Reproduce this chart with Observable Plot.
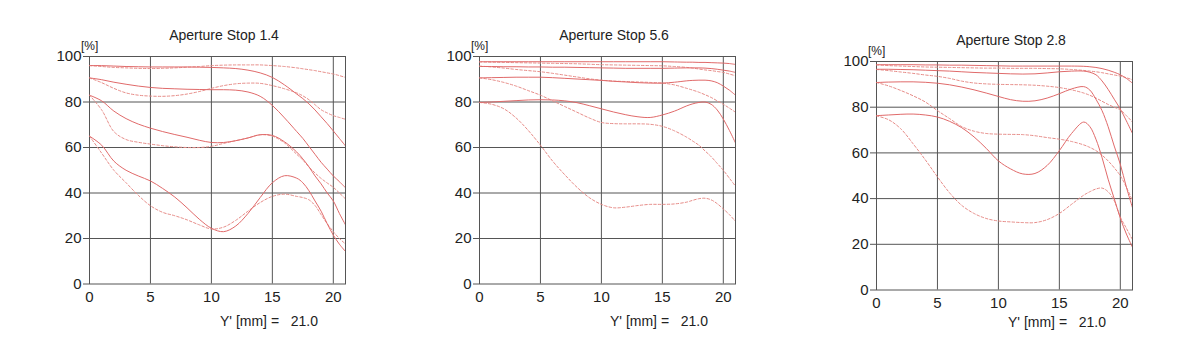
<!DOCTYPE html>
<html>
<head>
<meta charset="utf-8">
<script src="https://cdn.jsdelivr.net/npm/d3@7"></script>
<script src="https://cdn.jsdelivr.net/npm/@observablehq/plot@0.6"></script>
<style>
  html, body { margin: 0; padding: 0; background: #fff; }
  #wrap { position: relative; width: 1200px; height: 361px; overflow: hidden; font-family: "Liberation Sans", Arial, sans-serif; color: #222; }
  .panel { position: absolute; top: 0; }
  .title { position: absolute; font-size: 14px; white-space: pre; transform: translateX(-50%); }
  .unit { position: absolute; font-size: 12px; white-space: pre; }
  .foot { position: absolute; font-size: 14px; white-space: pre; }
</style>
</head>
<body>
<div id="wrap"></div>
<script>
// Image height position (mm) sample grid
const xGrid = [0,1,2,3,4,5,6,7,8,9,10,11,12,13,14,15,16,17,17.5,18,18.5,19,19.5,20,20.5,21];

// ---- Aperture Stop 1.4 ----
const ap14Solid1 = [96,96,95.8,95.6,95.5,95.4,95.4,95.4,95.4,95.3,95.2,95,94.7,94,92.8,90.8,87.5,83.5,81.5,79.2,76.5,73.5,70.5,67.3,64,60.7];
const ap14Dash1  = [96,95.6,95.2,95,94.8,94.7,94.8,95,95.3,95.6,96,96.2,96.3,96.3,96.3,96,95.6,95,94.6,94.2,93.8,93.3,92.8,92.3,91.6,90.8];
const ap14Solid2 = [90.6,89.8,88.7,87.8,87,86.4,86,85.8,85.6,85.5,85.4,85.4,85.2,84.4,82.5,78.5,73,67,64,60.5,57,53.5,50.5,47.5,45,42.3];
const ap14Dash2  = [90.6,88.5,86,84,83,82.6,82.5,82.8,83.5,84.6,86,87.2,88,88.3,88.2,87.2,85.8,84,82.7,81,78.8,76.6,75.2,74,73.2,72.4];
const ap14Solid3 = [83,80.5,76,72.7,70.3,68.5,67,65.7,64.5,63.2,62.2,62.2,63,64.2,65.6,65.3,62.5,58,55,51.5,47.5,44,40,36.5,31,26];
const ap14Dash3  = [83,76.5,67,63.5,62.3,61.5,60.8,60.3,60,60,60.5,61.8,63,64.2,65.6,65,62,57,54.5,51.5,48.8,46.4,44.4,42.5,40,37.4];
const ap14Solid4 = [65,61,54,50,47.5,45.3,42,38.2,33.5,28.5,24.5,23,25.5,31,38,44.5,47.6,46.5,44.5,41,36.5,32,26.5,21.5,17.5,14.3];
const ap14Dash4  = [65,57.5,50,44.5,39,34.4,31.5,30,28.2,26,24.2,25,28,32,35.8,38.5,39.5,38.5,38,37,34.5,30.5,26.5,23,20,17.6];

// ---- Aperture Stop 5.6 ----
const ap56Solid1 = [97.7,97.7,97.7,97.7,97.7,97.7,97.7,97.7,97.7,97.7,97.7,97.7,97.7,97.7,97.7,97.7,97.6,97.5,97.5,97.4,97.4,97.3,97.2,97.1,96.9,96.5];
const ap56Dash1  = [97.6,97.5,97.4,97.3,97.2,97.1,97,96.9,96.8,96.6,96.4,96.3,96.2,96.1,96,95.9,95.6,95.2,94.9,94.5,94.1,93.8,93.4,93,92.3,91.5];
const ap56Solid2 = [95.6,95.6,95.5,95.5,95.4,95.4,95.3,95.3,95.2,95.1,95,94.9,94.8,94.8,94.8,94.8,94.9,95,95,95,94.9,94.7,94.4,94,93.6,93];
const ap56Dash2  = [95.8,95.4,94.9,94.3,93.8,93.3,92.6,91.8,91,90.2,89.6,89.2,89,88.8,88.6,88.3,87.5,86,85.2,84.3,83.2,82,80.5,79,77.3,75.5];
const ap56Solid3 = [90.6,90.7,90.8,90.9,90.9,90.9,90.7,90.4,90.1,89.8,89.5,89.1,88.8,88.5,88.3,88.3,88.7,89.3,89.5,89.6,89.6,89.3,88.5,87,85.2,83];
const ap56Dash3  = [90.6,89.8,88.6,87,85,83,80.5,78,75.5,73,71,70.5,70.4,70.4,70.2,69.3,67.3,64.5,62.8,61,58.5,56,53,50,46.5,43];
const ap56Solid4 = [79.8,80,80.3,80.6,80.9,81,80.9,80.5,79.7,78.4,77,75.6,74.4,73.5,73.2,74.3,76,78.3,79.2,79.8,80,79,76.5,72.5,67.5,62];
const ap56Dash4  = [79.8,79,77,73,67.5,61,54,48,42.5,38,35,33.5,33.8,34.5,35,35,35.2,36,36.8,37.5,37.7,37,35.3,33,30.5,27.5];

// ---- Aperture Stop 2.8 ----
const ap28Solid1 = [98.6,98.6,98.6,98.6,98.5,98.5,98.4,98.4,98.3,98.2,98.1,98,98,98,98,98,98,97.9,97.7,97.4,96.9,96.2,95.3,94.2,92.6,90.5];
const ap28Dash1  = [98.5,98.2,98,97.8,97.6,97.5,97.4,97.3,97.2,97.1,97.1,97,97,97,96.9,96.8,96.5,96.1,95.8,95.5,95.1,94.6,94.1,93.6,92.9,92];
const ap28Solid2 = [96.6,96.6,96.5,96.4,96.2,96,95.8,95.5,95.2,95,94.8,94.6,94.5,94.6,95,95.5,95.8,95.8,95.3,94.2,91.5,87.8,83.5,79.2,74,68.5];
const ap28Dash2  = [96.5,96,95.4,94.8,94.1,93.5,92.6,91.4,90.6,90.2,90,89.9,89.8,89.6,89.2,88.6,87.6,86.2,85.2,84,82.6,81.2,80,78.8,76.3,73.5];
const ap28Solid3 = [90.8,91,91.1,91.1,90.9,90.5,89.8,88.8,87.6,86.2,84.7,83.3,82.6,82.8,84,85.9,88,89,87.5,83.5,78.5,71.5,63,55,45,36];
const ap28Dash3  = [90.8,89.3,87.3,85,82.3,78.5,75,71.5,69.5,68.5,68.2,68.1,68,67.5,66.7,66,65,63.5,62.4,61,59,56.5,53.5,50,45,39];
const ap28Solid4 = [76.3,76.6,76.9,77,76.6,75.7,73.8,71,67,62,56.5,53,50.8,51,54.5,61,68.5,73.5,71.5,66,58,48.5,40,31.5,24.5,18.7];
const ap28Dash4  = [76.2,74.5,70.5,64,57,49.5,42.5,37,33.5,31.3,30.2,29.8,29.5,29.5,30.8,33.5,37.5,41.5,43,44.2,44.6,43,39,32,27,22];

// ---- axis ticks / labels ----
const xTicks = [0,5,10,15,20];
const yTicks = [0,20,40,60,80,100];
const xGridLines = [5,10,15,20];
const yGridLines = [20,40,60,80];
const titles = ["Aperture Stop 1.4","Aperture Stop 5.6","Aperture Stop 2.8"];
const unitLabel = "[%]";
const footLabel = "Y' [mm] =   21.0";

const panelSeries = [
  {solid:[ap14Solid1,ap14Solid2,ap14Solid3,ap14Solid4], dashed:[ap14Dash1,ap14Dash2,ap14Dash3,ap14Dash4]},
  {solid:[ap56Solid1,ap56Solid2,ap56Solid3,ap56Solid4], dashed:[ap56Dash1,ap56Dash2,ap56Dash3,ap56Dash4]},
  {solid:[ap28Solid1,ap28Solid2,ap28Solid3,ap28Solid4], dashed:[ap28Dash1,ap28Dash2,ap28Dash3,ap28Dash4]}
];

// layout (pixels)
const layout = [
  {left: 39, x0: 89, x1: 345, yTop: 56, yBot: 283.5, titleX: 224, titleY: 27, unitX: 81, unitY: 39, footX: 220, footY: 313},
  {left: 429, x0: 479, x1: 735, yTop: 56, yBot: 283.5, titleX: 614, titleY: 27, unitX: 471, unitY: 39, footX: 610, footY: 313},
  {left: 826, x0: 876, x1: 1132, yTop: 61, yBot: 289.5, titleX: 1011, titleY: 32, unitX: 868, unitY: 44, footX: 1008, footY: 314}
];

const gridColor = "#555555";
const solidColor = "#e06a6a";
const dashColor = "#e68c88";
const wrap = document.getElementById("wrap");

function toRows(list, prefix) {
  const rows = [];
  list.forEach((vals, i) => vals.forEach((v, j) => rows.push({id: prefix + i, x: xGrid[j], y: v})));
  return rows;
}

layout.forEach((L, p) => {
  const ML = L.x0 - L.left, MR = 8, H = 340;
  const W = ML + (L.x1 - L.x0) + MR;
  const solidRows = toRows(panelSeries[p].solid, "s");
  const dashRows = toRows(panelSeries[p].dashed, "d");
  const chart = Plot.plot({
    width: W, height: H,
    marginLeft: ML, marginRight: MR, marginTop: L.yTop, marginBottom: H - L.yBot,
    style: {fontFamily: "'Liberation Sans', Arial, sans-serif", fontSize: "15px", color: "#222", background: "transparent", overflow: "visible"},
    x: {domain: [0, 21]},
    y: {domain: [0, 100]},
    marks: [
      Plot.ruleX(xGridLines, {stroke: gridColor, strokeWidth: 1}),
      Plot.ruleY(yGridLines, {stroke: gridColor, strokeWidth: 1}),
      Plot.frame({stroke: gridColor, strokeWidth: 1}),
      Plot.line(dashRows, {x: "x", y: "y", z: "id", stroke: dashColor, strokeWidth: 1, strokeDasharray: "2.5,2", curve: "catmull-rom", clip: true}),
      Plot.line(solidRows, {x: "x", y: "y", z: "id", stroke: solidColor, strokeWidth: 1, curve: "catmull-rom", clip: true}),
      Plot.axisX({ticks: xTicks, tickSize: 0, tickPadding: 7, label: null, fontSize: 15, fill: "#222"}),
      Plot.axisY({ticks: yTicks, tickSize: 6, tickPadding: 2, label: null, fontSize: 15, stroke: gridColor, fill: "#222"})
    ]
  });
  const holder = document.createElement("div");
  holder.className = "panel";
  holder.style.left = L.left + "px";
  holder.appendChild(chart);
  wrap.appendChild(holder);

  const t = document.createElement("div");
  t.className = "title"; t.textContent = titles[p];
  t.style.left = L.titleX + "px"; t.style.top = L.titleY + "px";
  wrap.appendChild(t);

  const u = document.createElement("div");
  u.className = "unit"; u.textContent = unitLabel;
  u.style.left = L.unitX + "px"; u.style.top = L.unitY + "px";
  wrap.appendChild(u);

  const f = document.createElement("div");
  f.className = "foot"; f.textContent = footLabel;
  f.style.left = L.footX + "px"; f.style.top = L.footY + "px";
  wrap.appendChild(f);
});
</script>
</body>
</html>
